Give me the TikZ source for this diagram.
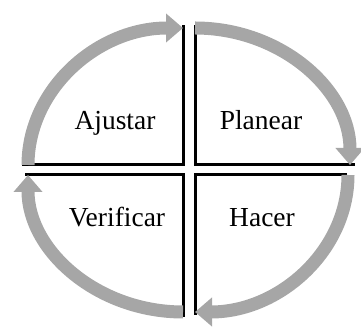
\documentclass[tikz,border=0pt]{standalone}
\usepackage{fontspec}
\setmainfont{Liberation Serif}
\usetikzlibrary{arrows.meta}
\definecolor{ring}{HTML}{A6A6A6}
\tikzset{cycarr/.style={draw=ring,line width=13pt,-{Triangle[length=17pt,width=28pt]}},
  corner/.style={draw=black,line width=3pt},
  lbl/.style={font=\fontsize{27.5}{30}\selectfont,anchor=base}}
\begin{document}
\begin{tikzpicture}[x=1pt,y=1pt]
\useasboundingbox (0,0) rectangle (361,328);
% corners of the four quadrants
\coordinate (tl) at (183,163);\coordinate (tr) at (195,163);
\coordinate (br) at (195,153);\coordinate (bl) at (183,153);
% black corner lines
\draw[corner]([xshift=-161pt]tl)--(tl)--([yshift=140pt]tl);
\draw[corner]([xshift=160pt]tr)--(tr)--([yshift=140pt]tr);
\draw[corner]([xshift=152pt]br)--(br)--([yshift=-140pt]br);
\draw[corner]([xshift=-158pt]bl)--(bl)--([yshift=-142pt]bl);
% grey cycle arrows
\draw[cycarr]([xshift=-155pt]tl) arc[start angle=180,end angle=90,x radius=155,y radius=137];
\draw[cycarr]([yshift=137pt]tr) arc[start angle=90,end angle=0,x radius=155,y radius=137];
\draw[cycarr]([xshift=153pt]br) arc[start angle=0,end angle=-90,x radius=153,y radius=137];
\draw[cycarr]([yshift=-137pt]bl) arc[start angle=-90,end angle=-180,x radius=155,y radius=137];
% labels
\node[lbl](ajustar) at (115,198){Ajustar};
\node[lbl](planear) at (261,198){Planear};
\node[lbl](verificar) at (117,101){Verificar};
\node[lbl](hacer) at (262,101){Hacer};
\end{tikzpicture}
\end{document}
